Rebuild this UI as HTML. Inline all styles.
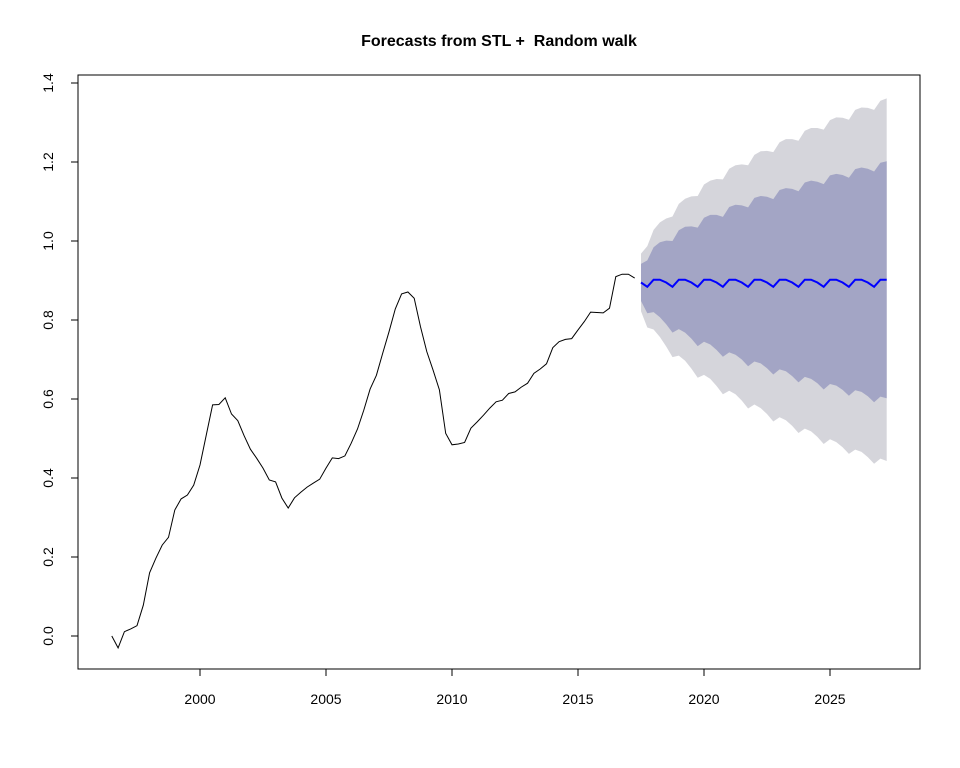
<!DOCTYPE html>
<html><head><meta charset="utf-8"><style>
html,body{margin:0;padding:0;background:#fff;}
svg{display:block;font-family:"Liberation Sans",Arial,sans-serif;}
</style></head><body>
<svg id="chart" width="960" height="768" viewBox="0 0 960 768" xmlns="http://www.w3.org/2000/svg">
<text x="499" y="46" text-anchor="middle" font-size="16" font-weight="bold">Forecasts from STL + &#160;Random walk</text>
<g id="bands"></g>
<g id="lines"></g>
<rect x="78" y="75" width="842" height="594" fill="none" stroke="#000" stroke-width="1"/>
<g id="xaxis"></g>
<g id="yaxis"></g>
</svg>
<script>
const histStart = 1996.5;
const histValues = [0.0,-0.03,0.011,0.018,0.026,0.078,0.16,0.197,0.23,0.25,
0.319,0.347,0.357,0.382,0.433,0.509,0.585,0.586,0.603,0.562,
0.545,0.507,0.473,0.45,0.425,0.395,0.39,0.349,0.324,0.35,
0.364,0.377,0.387,0.397,0.425,0.451,0.449,0.456,0.488,0.524,
0.572,0.625,0.66,0.716,0.77,0.828,0.866,0.871,0.855,0.783,
0.72,0.673,0.623,0.513,0.484,0.486,0.49,0.526,0.542,0.559,
0.577,0.593,0.597,0.614,0.618,0.63,0.64,0.665,0.676,0.689,
0.73,0.745,0.751,0.753,0.775,0.796,0.82,0.819,0.818,0.83,
0.91,0.916,0.916,0.906];
const fcStart = 2017.5;
const fcPoint = [0.895,0.884,0.902,0.902,0.895,0.884,0.902,0.902,0.895,0.884,
0.902,0.902,0.895,0.884,0.902,0.902,0.895,0.884,0.902,0.902,
0.895,0.884,0.902,0.902,0.895,0.884,0.902,0.902,0.895,0.884,
0.902,0.902,0.895,0.884,0.902,0.902,0.895,0.884,0.902,0.902];
const hw80 = [.047,.067,.082,.095,.106,.116,.125,.134,.142,.150,.157,.164,.171,.177,.184,.190,.195,.201,.207,.212,
.217,.222,.227,.232,.237,.242,.246,.251,.255,.260,.264,.268,.272,.276,.280,.284,.288,.292,.296,.300];
const hw95 = [.073,.103,.126,.145,.162,.178,.192,.205,.218,.230,.241,.251,.262,.272,.281,.290,.299,.308,.316,.325,
.333,.341,.348,.356,.363,.370,.377,.384,.391,.398,.404,.411,.417,.423,.430,.436,.442,.448,.453,.459];
const xTicks = [2000,2005,2010,2015,2020,2025];
const yTicks = [0.0,0.2,0.4,0.6,0.8,1.0,1.2,1.4];

const NS="http://www.w3.org/2000/svg";
function X(t){return 200+(t-2000)*25.2;}
function Y(v){return 636-v*395;}
function mk(tag,attrs,parent){const e=document.createElementNS(NS,tag);for(const k in attrs)e.setAttribute(k,attrs[k]);parent.appendChild(e);return e;}

const bands=document.getElementById('bands');
function band(hw,color,name){
  let up=[],lo=[];
  fcPoint.forEach((p,i)=>{const t=fcStart+i*0.25;up.push(X(t).toFixed(1)+','+Y(p+hw[i]).toFixed(1));lo.push(X(t).toFixed(1)+','+Y(p-hw[i]).toFixed(1));});
  const el=mk('polygon',{points:up.concat(lo.reverse()).join(' '),fill:color,stroke:'none'},bands);
  
  
}
band(hw95,'#D5D5DB','interval-95');
band(hw80,'#A3A5C5','interval-80');

const lines=document.getElementById('lines');
const hp=histValues.map((v,i)=>X(histStart+i*0.25).toFixed(1)+','+Y(v).toFixed(1)).join(' ');
const h=mk('polyline',{points:hp,fill:'none',stroke:'#000','stroke-width':1},lines);


const fp=fcPoint.map((v,i)=>X(fcStart+i*0.25).toFixed(1)+','+Y(v).toFixed(1)).join(' ');
const f=mk('polyline',{points:fp,fill:'none',stroke:'#0000FF','stroke-width':2},lines);



const xa=document.getElementById('xaxis');
mk('line',{x1:X(xTicks[0]),x2:X(xTicks[xTicks.length-1]),y1:669,y2:669,stroke:'#000'},xa);
xTicks.forEach(t=>{
  const tk=mk('line',{x1:X(t),x2:X(t),y1:669,y2:676,stroke:'#000'},xa);
  
  
  const lb=mk('text',{x:X(t),y:704,'text-anchor':'middle','font-size':14},xa);
  lb.textContent=t;
  
  
});
const ya=document.getElementById('yaxis');
mk('line',{x1:78,x2:78,y1:Y(yTicks[0]),y2:Y(yTicks[yTicks.length-1]),stroke:'#000'},ya);
yTicks.forEach(v=>{
  const tk=mk('line',{x1:71,x2:78,y1:Y(v),y2:Y(v),stroke:'#000'},ya);
  
  
  const lb=mk('text',{x:0,y:0,'text-anchor':'middle','font-size':14,transform:'translate(53,'+Y(v)+') rotate(-90)'},ya);
  lb.textContent=v.toFixed(1);
  
  
});
</script>
</body></html>
